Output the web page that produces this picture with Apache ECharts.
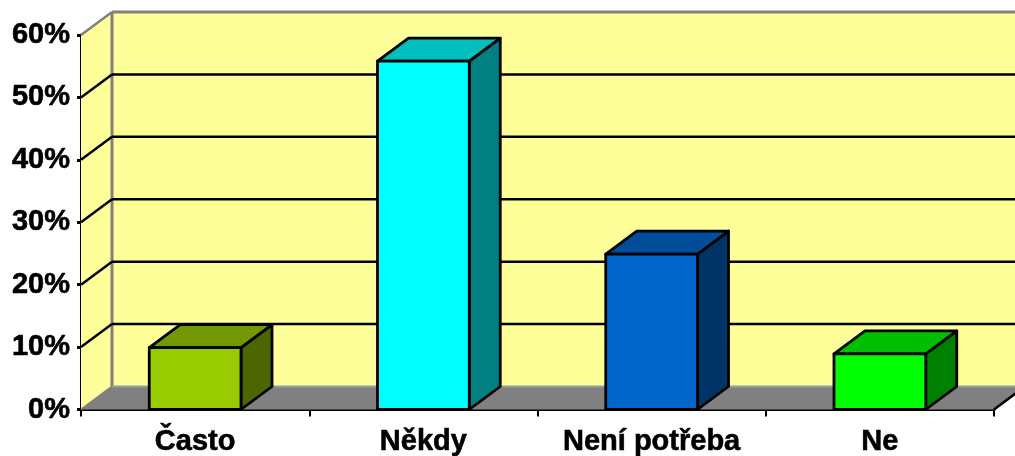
<!DOCTYPE html>
<html><head><meta charset="utf-8">
<style>html,body{margin:0;padding:0;background:#fff}#c{width:1015px;height:456px}</style>
<script src="https://cdn.jsdelivr.net/npm/echarts@6/dist/echarts.min.js"></script>
</head><body><div id="c"></div>
<script>
const categories = ['Často', 'Někdy', 'Není potřeba', 'Ne'];
const values = [0.099, 0.558, 0.249, 0.089];
const gridTicks = [0.1, 0.2, 0.3, 0.4, 0.5];
const frontColors = ['#99CC00', '#00FFFF', '#0066CC', '#00FF00'];
const topColors = ['#739900', '#00BFBF', '#004D99', '#00BF00'];
const sideColors = ['#4D6600', '#008080', '#003366', '#008000'];
const DX = 31, DY = -23, BAR_RATIO = 0.402;
const YMAX = 0.6;

const chart = echarts.init(document.getElementById('c'), null, {renderer: 'canvas'});
const shift = p => [p[0] + DX, p[1] + DY];
const poly = (points, fill, stroke, lw) => ({
  type: 'polygon', shape: {points},
  style: {fill, stroke: stroke || 'none', lineWidth: lw || 0, lineJoin: 'round'}
});
const line = (a, b, stroke, lw) => ({
  type: 'line', shape: {x1: a[0], y1: a[1], x2: b[0], y2: b[1]},
  style: {stroke, lineWidth: lw, fill: 'none'}
});

function renderWalls(params, api) {
  const band = api.size([1, 0])[0];
  const c0 = api.coord([0, 0]), cT = api.coord([0, YMAX]), c3 = api.coord([3, 0]);
  const L = c0[0] - band / 2, R = c3[0] + band / 2, y0 = c0[1], yT = cT[1];
  const fl = [L, y0], fr = [R, y0], tl = [L, yT], tr = [R, yT];
  return {type: 'group', children: [
    poly([fl, tl, shift(tl), shift(fl)], '#FFFF99'),
    poly([shift(tl), shift(tr), shift(fr), shift(fl)], '#FFFF99'),
    poly([fl, fr, shift(fr), shift(fl)], '#808080'),
    line(tl, shift(tl), '#808080', 2.5),
    line(shift(tl), shift(tr), '#808080', 3),
    line(shift(tl), shift(fl), '#808080', 3),
    line(fl, shift(fl), '#808080', 2),
    line(shift(fl), shift(fr), '#9A9A9A', 2),
    line(fr, shift(fr), '#000000', 2.5)
  ]};
}
function renderGrid(params, api) {
  const band = api.size([1, 0])[0];
  const v = api.value(1);
  const a = api.coord([0, v]), b = api.coord([3, v]);
  const L = [a[0] - band / 2, a[1]], R = [b[0] + band / 2, b[1]];
  return {type: 'group', children: [
    line(L, shift(L), '#000000', 2.5),
    line(shift(L), shift(R), '#000000', 2.5)
  ]};
}
function renderBar(params, api) {
  const i = api.value(0), v = api.value(1);
  const band = api.size([1, 0])[0], w = band * BAR_RATIO;
  const b = api.coord([i, 0]), t = api.coord([i, v]);
  const x1 = b[0] - w / 2, x2 = b[0] + w / 2;
  const fbl = [x1, b[1]], fbr = [x2, b[1]], ftl = [x1, t[1]], ftr = [x2, t[1]];
  return {type: 'group', children: [
    poly([fbr, ftr, shift(ftr), shift(fbr)], sideColors[i], '#000', 2.8),
    poly([ftl, ftr, shift(ftr), shift(ftl)], topColors[i], '#000', 2.8),
    poly([fbl, fbr, ftr, ftl], frontColors[i], '#000', 2.8)
  ]};
}

const font = {color: '#000', fontFamily: '"Liberation Sans", Arial, sans-serif', fontWeight: 'bold', fontSize: 29,
  textBorderColor: '#000', textBorderWidth: 0.6};
chart.setOption({
  animation: false,
  backgroundColor: '#fff',
  grid: {left: 81, top: 35, width: 913, height: 374.5, containLabel: false, outerBoundsMode: 'none'},
  xAxis: {
    type: 'category', data: categories, boundaryGap: true,
    axisLine: {show: true, lineStyle: {color: '#000', width: 3}},
    axisTick: {show: true, alignWithLabel: false, length: 7, lineStyle: {color: '#000', width: 2}},
    axisLabel: Object.assign({margin: 18, interval: 0}, font),
    splitLine: {show: false}
  },
  yAxis: {
    type: 'value', min: 0, max: YMAX, interval: 0.1,
    axisLine: {show: true, lineStyle: {color: '#000', width: 3}},
    axisTick: {show: true, length: 4, lineStyle: {color: '#000', width: 3}},
    axisLabel: Object.assign({margin: 11, padding: [3, 0, 0, 0], formatter: v => Math.round(v * 100) + '%'}, font),
    splitLine: {show: false}
  },
  series: [
    {type: 'custom', name: 'walls', renderItem: renderWalls, clip: false, silent: true, z: 1,
     encode: {x: 0, y: 1}, data: [[0, 0]]},
    {type: 'custom', name: 'grid', renderItem: renderGrid, clip: false, silent: true, z: 2,
     encode: {x: 0, y: 1}, data: gridTicks.map(t => [0, t])},
    {type: 'custom', name: 'bars', renderItem: renderBar, clip: false, silent: true, z: 3,
     encode: {x: 0, y: 1}, data: values.map((v, i) => [i, v])}
  ]
});
</script></body></html>
